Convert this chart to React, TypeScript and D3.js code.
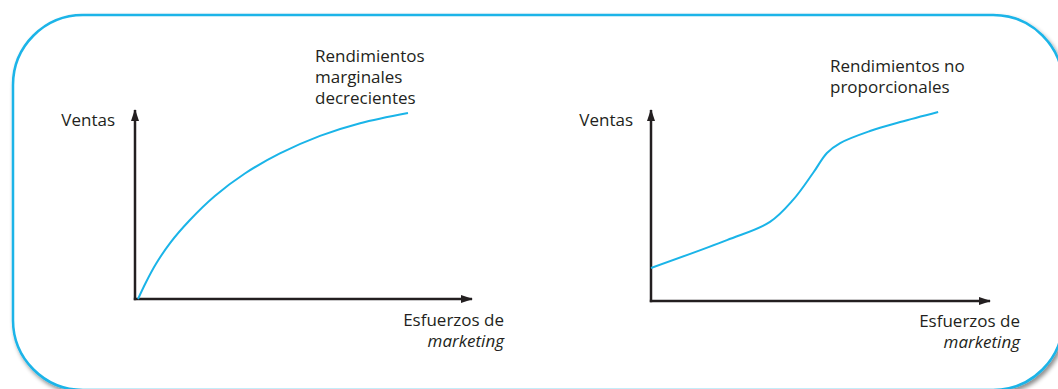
import React, { useEffect, useRef } from 'react';
import * as d3 from 'd3';

// curve values, in % of the axis length
const decrecientesX = [0.9, 3.3, 6.2, 10.4, 16.3, 23.7, 32.6, 43.0, 54.9, 66.8, 81.0];
const decrecientesY = [0, 9.0, 18.5, 29.6, 41.8, 54.5, 66.4, 77.0, 86.3, 93.0, 98.4];

const noPropX = [0, 22.4, 35.1, 41.9, 47.8, 51.9, 55.8, 64.6, 73.5, 84.7];
const noPropY = [17.3, 31.9, 41.4, 52.9, 67.0, 77.5, 82.7, 89.0, 93.7, 99.0];

const yLabel = 'Ventas';
const xLabel = ['Esfuerzos de', 'marketing'];
const leftTitle = ['Rendimientos', 'marginales', 'decrecientes'];
const rightTitle = ['Rendimientos no', 'proporcionales'];

const W = 1058;
const H = 389;
const FONT = '"Open Sans", sans-serif';
const BLUE = '#1ab4e8';
const INK = '#231f20';

export default function App() {
  const ref = useRef<SVGSVGElement>(null);

  useEffect(() => {
    const svg = d3.select(ref.current);
    svg.selectAll('*').remove();

    const defs = svg.append('defs');
    defs.append('filter')
      .attr('id', 'shadow')
      .attr('x', '-5%').attr('y', '-5%')
      .attr('width', '110%').attr('height', '120%')
      .append('feDropShadow')
      .attr('dx', 2).attr('dy', 3)
      .attr('stdDeviation', 2)
      .attr('flood-color', '#000')
      .attr('flood-opacity', 0.45);

    defs.append('marker')
      .attr('id', 'arrow')
      .attr('viewBox', '0 0 12 8')
      .attr('refX', 11).attr('refY', 4)
      .attr('markerWidth', 12).attr('markerHeight', 8)
      .attr('markerUnits', 'userSpaceOnUse')
      .attr('orient', 'auto')
      .append('path')
      .attr('d', 'M0,0 L12,4 L0,8 Z')
      .attr('fill', INK);

    // frame
    svg.append('rect')
      .attr('x', 13).attr('y', 15)
      .attr('width', 1050).attr('height', 375)
      .attr('rx', 70).attr('ry', 70)
      .attr('fill', '#fff')
      .attr('stroke', BLUE)
      .attr('stroke-width', 2.5)
      .attr('filter', 'url(#shadow)');

    const panels = [
      {
        xs: decrecientesX, ys: decrecientesY, title: leftTitle,
        xr: [135, 472], yr: [299, 110],
        titleX: 315, titleY: 62,
        ventasX: 115, xlabX: 504, xlabY: 326,
      },
      {
        xs: noPropX, ys: noPropY, title: rightTitle,
        xr: [651, 990], yr: [301, 110],
        titleX: 830, titleY: 72,
        ventasX: 633, xlabX: 1020, xlabY: 327,
      },
    ];

    panels.forEach((p) => {
      const x = d3.scaleLinear().domain([0, 100]).range(p.xr);
      const y = d3.scaleLinear().domain([0, 100]).range(p.yr);
      const g = svg.append('g');

      // y axis
      g.append('line')
        .attr('x1', x(0)).attr('y1', y(0) + 1.2)
        .attr('x2', x(0)).attr('y2', y(100))
        .attr('stroke', INK).attr('stroke-width', 2.5)
        .attr('marker-end', 'url(#arrow)');
      // x axis
      g.append('line')
        .attr('x1', x(0) - 1.2).attr('y1', y(0))
        .attr('x2', x(100)).attr('y2', y(0))
        .attr('stroke', INK).attr('stroke-width', 2.5)
        .attr('marker-end', 'url(#arrow)');

      const line = d3.line<number>()
        .curve(d3.curveCatmullRom)
        .x((d, i) => x(p.xs[i]))
        .y((d) => y(d));

      g.append('path')
        .datum(p.ys)
        .attr('d', line)
        .attr('fill', 'none')
        .attr('stroke', BLUE)
        .attr('stroke-width', 2);

      // multi-line labels as one <text> with tspans
      const block = (tx: number, ty: number, lines: string[], lh: number, anchor = 'start', italicLast = false) => {
        const t = g.append('text')
          .attr('x', tx).attr('y', ty)
          .attr('text-anchor', anchor)
          .style('font-family', FONT)
          .style('font-size', '17px')
          .attr('fill', INK);
        lines.forEach((s, i) => {
          t.append('tspan')
            .attr('x', tx)
            .attr('dy', i === 0 ? 0 : lh)
            .style('font-style', italicLast && i === lines.length - 1 ? 'italic' : 'normal')
            .text(s);
        });
      };

      block(p.ventasX, 126, [yLabel], 0, 'end');
      block(p.titleX, p.titleY, p.title, 21);
      block(p.xlabX, p.xlabY, xLabel, 21, 'end', true);
    });
  }, []);

  return (
    <div style={{ position: 'fixed', left: 0, top: 0, background: '#fff' }}>
      <svg ref={ref} width={W} height={H} style={{ display: 'block' }} />
    </div>
  );
}
